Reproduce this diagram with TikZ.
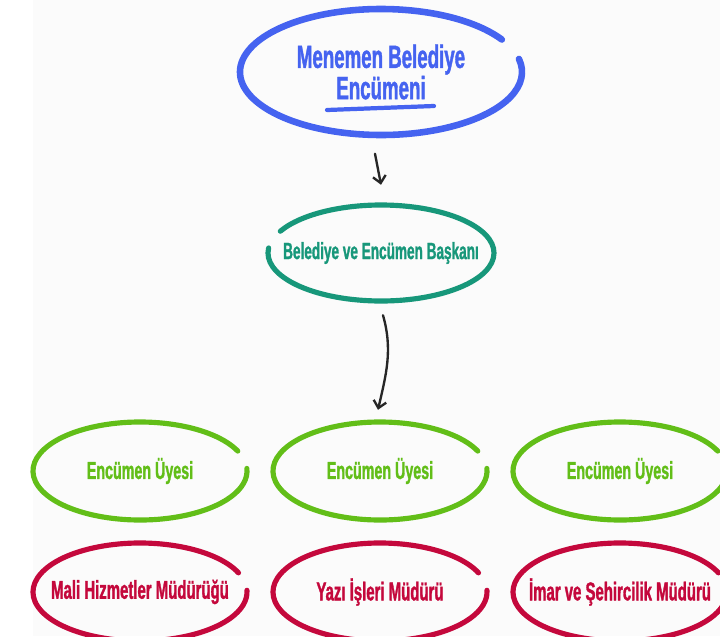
\documentclass[tikz,border=0pt]{standalone}
\usepackage{fontspec}
\setmainfont{Liberation Sans}[FakeStretch=0.58, BoldFeatures={FakeBold=1.2}]
\usetikzlibrary{arrows,arrows.meta,shapes.geometric}
\definecolor{encBlue}{HTML}{4563F0}
\definecolor{encTeal}{HTML}{17977A}
\definecolor{encGreen}{HTML}{62BE18}
\definecolor{encRed}{HTML}{C4083C}
\definecolor{paperGray}{HTML}{FBFBFB}
\newcommand{\pxLen}{0.03cm}
\newcommand{\loopWidth}{4.4pt}
% open hand drawn loop round a node: node, rx, ry, start, end, colour
\newcommand{\openLoop}[6]{%
  \draw[#6, line width=\loopWidth, line cap=round] (#1.center) ++(#4:#2 and #3)
    arc[start angle=#4, end angle=#5, x radius=#2, y radius=#3];}

\begin{document}
\begin{tikzpicture}[x=\pxLen, y=\pxLen,
    loopnode/.style={ellipse, inner sep=0pt, align=center, font=\bfseries},
    uyenode/.style={loopnode, minimum width=214*\pxLen, minimum height=98*\pxLen,
      text=encGreen, font=\bfseries\fontsize{21}{23}\selectfont},
    mudurnode/.style={loopnode, minimum width=214*\pxLen, minimum height=98*\pxLen,
      text=encRed, font=\bfseries\fontsize{22}{24}\selectfont},
    flowArrow/.style={-{Straight Barb[length=6pt,width=11pt,line width=2pt]},
      line width=2pt, line cap=round, black!85}]
\useasboundingbox (0,0) rectangle (720,-636);
\clip (0,0) rectangle (720,-636);
\fill[paperGray] (33,0) rectangle (720,-636);

\node[loopnode, minimum width=282*\pxLen, minimum height=127*\pxLen, text=encBlue,
  font=\bfseries\fontsize{27.5}{24.5}\selectfont] (enc) at (381,-72)
  {Menemen Belediye\\Encümeni};
\begingroup
\renewcommand{\loopWidth}{5.6pt}
\openLoop{enc}{141}{63}{31}{372}{encBlue}
\endgroup
\draw[encBlue, line width=3.6pt, line cap=round]
  ([shift={(-54,-38)}]enc.center) -- ([shift={(53,-34)}]enc.center);

\node[loopnode, minimum width=226*\pxLen, minimum height=96*\pxLen, text=encTeal,
  font=\bfseries\fontsize{20}{22}\selectfont] (baskan) at (381,-253)
  {Belediye ve Encümen Başkanı};
\openLoop{baskan}{113}{48}{174}{513}{encTeal}

\node[uyenode] (uye1) at (140,-471) {Encümen Üyesi};
\node[uyenode] (uye2) at (380,-471) {Encümen Üyesi};
\node[uyenode] (uye3) at (620,-471) {Encümen Üyesi};
\foreach \n in {uye1,uye2,uye3}
  {\openLoop{\n}{107}{49}{24}{363}{encGreen}}

\node[mudurnode] (mali) at (140,-592) {Mali Hizmetler Müdürüğü};
\node[mudurnode] (yazi) at (380,-592) {Yazı İşleri Müdürü};
\node[mudurnode] (imar) at (620,-592) {İmar ve Şehircilik Müdürü};
\foreach \n in {mali,yazi,imar}
  {\openLoop{\n}{107}{49}{23}{362}{encRed}}

\draw[flowArrow] ([shift={(-6,-18)}]enc.south) -- ([shift={(0,20)}]baskan.north);
\draw[flowArrow] ([shift={(2,-14)}]baskan.south)
  .. controls +(10,-35) and +(8,35) .. ([shift={(-2,12)}]uye2.north);
\end{tikzpicture}
\end{document}
